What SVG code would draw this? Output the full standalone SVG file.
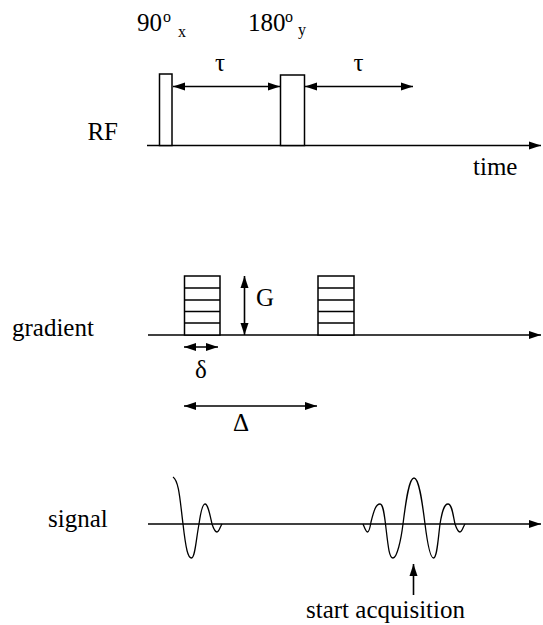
<svg xmlns="http://www.w3.org/2000/svg" width="543" height="625" viewBox="0 0 543 625">
<defs>
<style>
.t{font-family:"Liberation Serif","Times New Roman",serif;font-size:25px;fill:#000}
.sup{font-size:16px}
.ln{stroke:#000;stroke-width:1.6;fill:none}
.box{stroke:#000;stroke-width:1.5;fill:#fff}
.wave{stroke:#000;stroke-width:1.3;fill:none}
</style>
<marker id="ah" viewBox="0 0 12 10" refX="12" refY="5" markerWidth="12" markerHeight="10" markerUnits="userSpaceOnUse" orient="auto-start-reverse">
<path d="M0,1 L12,5 L0,9 Z" fill="#000"/>
</marker>
</defs>
<rect width="543" height="625" fill="#fff"/>
<g id="labels">
<text class="t" x="118" y="140" text-anchor="end">RF</text>
<text class="t" x="473" y="175">time</text>
<text class="t" x="12" y="336">gradient</text>
<text class="t" x="48" y="527">signal</text>
</g>
<g id="axes">
<line class="ln" x1="147" y1="145.5" x2="541" y2="145.5" marker-end="url(#ah)"/>
<line class="ln" x1="148" y1="335" x2="541" y2="335" marker-end="url(#ah)"/>
<line class="ln" x1="148" y1="524" x2="541" y2="524" marker-end="url(#ah)"/>
</g>
<g id="pulse90">
<rect class="box" x="159.5" y="74" width="12.5" height="71.5"/>
<text class="t" x="137" y="31">90<tspan class="sup" x="163" y="22">o</tspan><tspan class="sup" x="178" y="37">x</tspan></text>
</g>
<g id="pulse180">
<rect class="box" x="280.5" y="75" width="24" height="70.5"/>
<text class="t" x="248" y="31" font-size="23">180<tspan class="sup" x="285" y="22">o</tspan><tspan class="sup" x="298" y="35">y</tspan></text>
</g>
<g id="grad1">
<rect class="box" x="184.5" y="276" width="35.5" height="59"/>
<path class="ln" d="M184.5,288 H220 M184.5,300 H220 M184.5,311.5 H220 M184.5,323 H220" stroke-width="1.3"/>
</g>
<g id="grad2">
<rect class="box" x="318" y="276" width="36" height="59"/>
<path class="ln" d="M318,288 H354 M318,300 H354 M318,311.5 H354 M318,323 H354" stroke-width="1.3"/>
</g>
<g id="fid">
<path class="wave" d="M173,477 C179,481 180,500 183,524 C186,550 188,558 191.5,558 C195,558 196,540 199,524 C201,510 203,504 205,504 C208,504 210,515 212,524 C214,530 215,532 217,532 C219,532 220,527 222,524"/>
</g>
<g id="echo">
<path class="wave" d="M363,524 C365,529 366,532 367.5,532 C369,532 370,528 371,522 C374,510 376,504 380,504 C383,504 384,512 385.5,524 C388,545 389,558 393,558 C397,558 401,540 403,524 C406,500 409,478 414,478 C419,478 422,500 425,524 C427,540 430,558 433.5,558 C437,558 438,540 440,524 C442,512 444,504 448,504 C452,504 453,515 455,524 C457,530 458,532 460,532 C462,532 463,527 465,524"/>
</g>
<g id="connectors">
<line class="ln" x1="173" y1="86.5" x2="280" y2="86.5" marker-start="url(#ah)" marker-end="url(#ah)"/>
<line class="ln" x1="305" y1="86.5" x2="413" y2="86.5" marker-start="url(#ah)" marker-end="url(#ah)"/>
<line class="ln" x1="244.5" y1="276" x2="244.5" y2="335" marker-start="url(#ah)" marker-end="url(#ah)"/>
<line class="ln" x1="184" y1="347" x2="218" y2="347" marker-start="url(#ah)" marker-end="url(#ah)"/>
<line class="ln" x1="184" y1="406" x2="317" y2="406" marker-start="url(#ah)" marker-end="url(#ah)"/>
<line class="ln" x1="413.5" y1="595" x2="413.5" y2="564" marker-end="url(#ah)"/>
</g>
<g id="annotations">
<text class="t" x="220" y="71" text-anchor="middle">τ</text>
<text class="t" x="358.5" y="71" text-anchor="middle">τ</text>
<text class="t" x="256" y="306">G</text>
<text class="t" x="201" y="378" text-anchor="middle">δ</text>
<text class="t" x="241" y="431" text-anchor="middle">Δ</text>
<text class="t" x="306" y="618">start acquisition</text>
</g>
</svg>
